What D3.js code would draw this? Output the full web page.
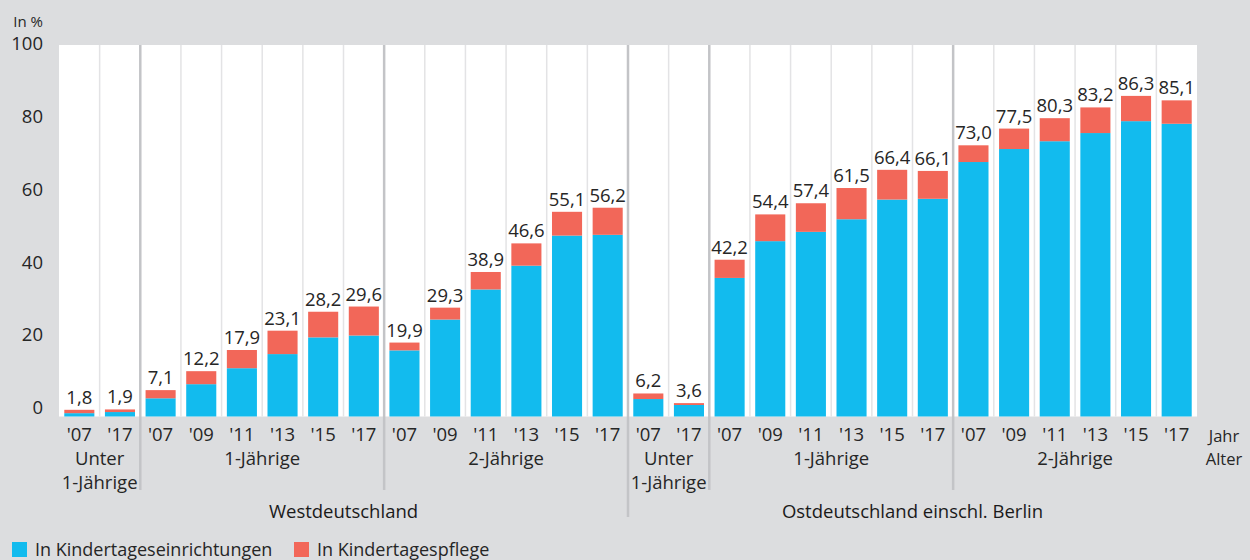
<!DOCTYPE html>
<html>
<head>
<meta charset="utf-8">
<script src="https://cdn.jsdelivr.net/npm/d3@7"></script>
<style>
  body { margin: 0; background: #dcdddf; }
  svg { display: block; font-family: "Open Sans", sans-serif; }
</style>
</head>
<body>
<div id="chart"></div>
<script>
// Data
const regionNames = ["Westdeutschland", "Ostdeutschland einschl. Berlin"];
const ageNames = [["Unter", "1-Jährige"], ["1-Jährige"], ["2-Jährige"]];
const ageYears = [
    ["'07", "'17"],
    ["'07", "'09", "'11", "'13", "'15", "'17"],
    ["'07", "'09", "'11", "'13", "'15", "'17"]
];
const totalWest = [1.8, 1.9, 7.1, 12.2, 17.9, 23.1, 28.2, 29.6, 19.9, 29.3, 38.9, 46.6, 55.1, 56.2];
const kitaWest  = [0.9, 1.2, 4.9, 8.7, 13.0, 16.8, 21.3, 21.8, 17.8, 26.1, 34.2, 40.6, 48.7, 48.9];
const totalEast = [6.2, 3.6, 42.2, 54.4, 57.4, 61.5, 66.4, 66.1, 73.0, 77.5, 80.3, 83.2, 86.3, 85.1];
const kitaEast  = [4.7, 3.1, 37.3, 47.2, 49.7, 53.1, 58.4, 58.6, 68.5, 72.0, 74.1, 76.3, 79.5, 78.8];
const yTicks = [0, 20, 40, 60, 80, 100];
const seriesNames = ["In Kindertageseinrichtungen", "In Kindertagespflege"];
const colors = ["#12bbee", "#f26759"];

// flatten into one row per bar
const rows = [];
const groups = [];
[[totalWest, kitaWest], [totalEast, kitaEast]].forEach(([tot, kita], r) => {
    let k = 0;
    ageYears.forEach((yrs, a) => {
        groups.push({ region: r, age: a, start: rows.length, n: yrs.length });
        yrs.forEach(yr => {
            rows.push({ i: rows.length, region: r, year: yr, kita: kita[k], pflege: +(tot[k] - kita[k]).toFixed(1), total: tot[k] });
            k++;
        });
    });
});

const width = 1250, height = 560;
const plotLeft = 59, plotRight = 1197, plotTop = 45, plotBottom = 416.5;
const textColor = "#262626";

const svg = d3.select("#chart").append("svg")
    .attr("width", width)
    .attr("height", height);

const x = d3.scaleBand()
    .domain(rows.map(d => d.i))
    .range([plotLeft, plotRight])
    .paddingInner(0.26)
    .paddingOuter(0.13);

const y = d3.scaleLinear().domain([0, 100]).range([plotBottom, plotTop]);
const step = x.step();
const edge = i => x(i) - step * x.paddingInner() / 2; // left boundary of band i

// plot background
svg.append("rect")
    .attr("x", plotLeft).attr("y", plotTop)
    .attr("width", plotRight - plotLeft).attr("height", plotBottom - plotTop)
    .attr("fill", "#fff");

// thin lines between bars
const groupStarts = new Set(groups.map(g => g.start));
svg.append("g").selectAll("line")
    .data(d3.range(1, rows.length).filter(i => !groupStarts.has(i)))
    .join("line")
    .attr("x1", i => edge(i)).attr("x2", i => edge(i))
    .attr("y1", plotTop).attr("y2", plotBottom)
    .attr("stroke", "#e3e3e5")
    .attr("stroke-width", 1.5);

// stacked bars
const stack = d3.stack().keys(["kita", "pflege"])(rows);
svg.append("g").selectAll("g")
    .data(stack)
    .join("g")
    .attr("fill", (d, i) => colors[i])
    .selectAll("rect")
    .data(d => d)
    .join("rect")
    .attr("x", d => x(d.data.i))
    .attr("width", x.bandwidth())
    .attr("y", d => y(d[1]))
    .attr("height", d => y(d[0]) - y(d[1]));

// value labels
svg.append("g").selectAll("text")
    .data(rows)
    .join("text")
    .attr("x", d => x(d.i) + x.bandwidth() / 2)
    .attr("y", d => y(d.total) - 6)
    .attr("text-anchor", "middle")
    .attr("fill", textColor)
    .style("font-size", "18.5px")
    .text(d => d3.format(".1f")(d.total).replace(".", ","));

// group separators
svg.append("g").selectAll("line")
    .data(groups.filter(g => g.start > 0))
    .join("line")
    .attr("x1", g => edge(g.start)).attr("x2", g => edge(g.start))
    .attr("y1", plotTop)
    .attr("y2", g => g.age === 0 ? 517 : 490)
    .attr("stroke", "#c3c4c7")
    .attr("stroke-width", 2.5);

// y axis (labels sit a little high in the original)
const yLabel = y.copy().range([plotBottom - 9, plotTop - 1]);
svg.append("g")
    .attr("transform", `translate(${plotLeft - 16},0)`)
    .call(d3.axisLeft(yLabel).tickValues(yTicks).tickSize(0).tickPadding(0))
    .call(g => g.select(".domain").remove())
    .call(g => g.selectAll("text")
        .attr("fill", textColor)
        .style("font-family", "Open Sans, sans-serif")
        .style("font-size", "18.5px"));

svg.append("text")
    .attr("x", plotLeft - 16).attr("y", 27)
    .attr("text-anchor", "end")
    .attr("fill", textColor)
    .style("font-size", "15px")
    .text("In %");

// year labels
svg.append("g").selectAll("text")
    .data(rows)
    .join("text")
    .attr("x", d => x(d.i) + x.bandwidth() / 2)
    .attr("y", 441)
    .attr("text-anchor", "middle")
    .attr("fill", textColor)
    .style("font-size", "18.5px")
    .text(d => d.year);

// age group labels
const groupMid = g => edge(g.start) + g.n * step / 2;
svg.append("g").selectAll("text")
    .data(groups)
    .join("text")
    .attr("text-anchor", "middle")
    .attr("fill", textColor)
    .style("font-size", "18.5px")
    .selectAll("tspan")
    .data(g => ageNames[g.age].map(t => ({ t, g })))
    .join("tspan")
    .attr("x", d => groupMid(d.g))
    .attr("y", (d, j) => 465 + j * 24)
    .text(d => d.t);

// region labels
regionNames.forEach((name, r) => {
    const gs = groups.filter(g => g.region === r);
    const x0 = edge(gs[0].start);
    const last = gs[gs.length - 1];
    const x1 = edge(last.start) + last.n * step;
    svg.append("text")
        .attr("x", (x0 + x1) / 2)
        .attr("y", 518)
        .attr("text-anchor", "middle")
        .attr("fill", "#1a1a1a")
        .style("font-size", "18.5px")
        .text(name);
});

// Jahr / Alter
svg.append("text")
    .attr("x", 1224).attr("y", 442)
    .attr("text-anchor", "middle")
    .attr("fill", textColor)
    .style("font-size", "16.5px")
    .text("Jahr");
svg.append("text")
    .attr("x", 1224).attr("y", 465)
    .attr("text-anchor", "middle")
    .attr("fill", textColor)
    .style("font-size", "16.5px")
    .text("Alter");

// legend
const legendX = [12, 294];
const legend = svg.append("g").selectAll("g")
    .data(seriesNames)
    .join("g")
    .attr("transform", (d, i) => `translate(${legendX[i]},542)`);
legend.append("rect")
    .attr("width", 15).attr("height", 15)
    .attr("fill", (d, i) => colors[i]);
legend.append("text")
    .attr("x", 23).attr("y", 14)
    .attr("fill", textColor)
    .style("font-size", "18px")
    .text(d => d);
</script>
</body>
</html>
